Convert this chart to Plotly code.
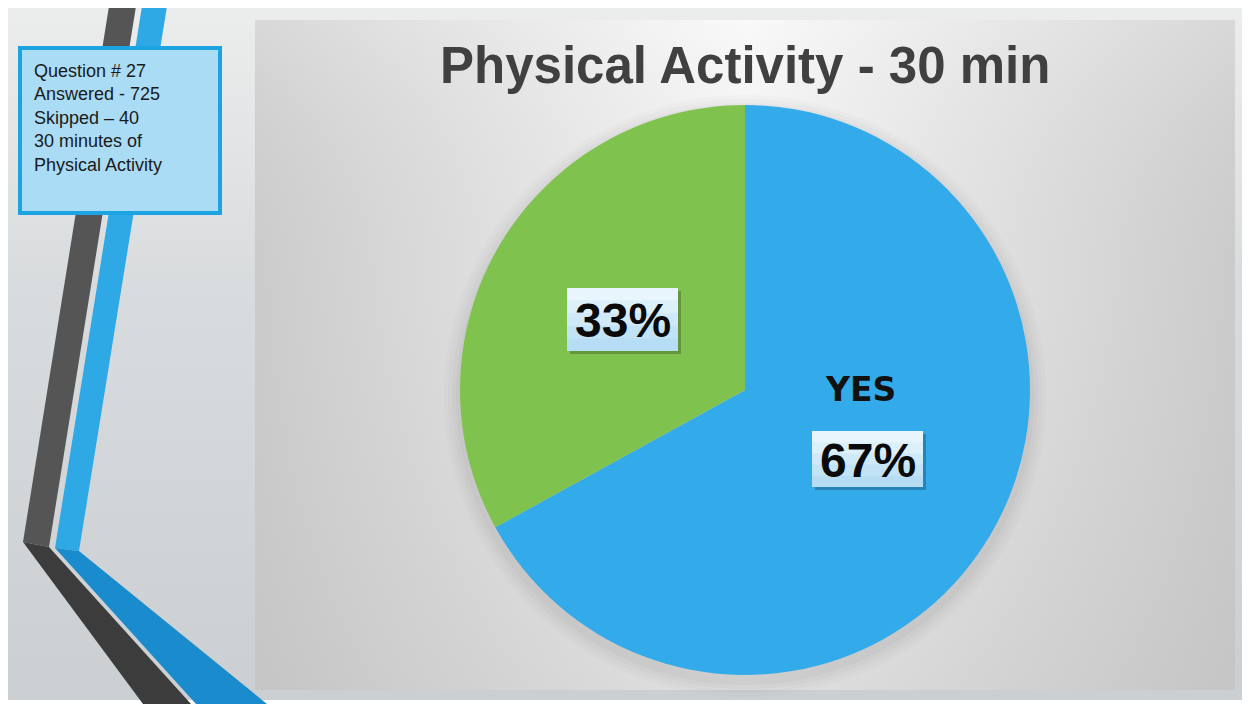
import numpy as np
import plotly.graph_objs as go

# Survey data (question 27)
labels = ['YES', 'NO']
values = [67, 33]
colors = ['#33aaea', '#80c24e']
title = 'Physical Activity - 30 min'
info_lines = ['Question # 27', 'Answered - 725', 'Skipped \u2013 40',
              '30 minutes of', 'Physical Activity']

W, H = 1250, 704
OFF = 8  # page body margin, the figure starts at (8, 8)
FW, FH = W, H

data = []

# slide background
data.append(go.Scatter(x=[7, W + OFF, W + OFF, 7, 7], y=[0, 0, 700, 700, 0], mode='none', fill='toself',
                       fillgradient=dict(type='vertical',
                                         colorscale=[[0, '#cbcfd2'], [0.6, '#d9dcde'], [1, '#eceded']]),
                       hoverinfo='skip'))

# chart panel
px0, px1, py0, py1 = 255, 1235, 20, 690
data.append(go.Scatter(x=[px0, px1, px1, px0, px0], y=[py0, py0, py1, py1, py0], mode='none', fill='toself',
                       fillgradient=dict(type='horizontal',
                                         colorscale=[[0, '#cbcbcb'], [0.5, '#f7f7f7'], [1, '#cbcbcb']]),
                       hoverinfo='skip'))
data.append(go.Scatter(x=[px0, px1, px1, px0, px0], y=[py0, py0, py1, py1, py0], mode='none', fill='toself',
                       fillgradient=dict(type='vertical',
                                         colorscale=[[0, 'rgba(185,185,185,0.35)'], [0.6, 'rgba(200,200,200,0.05)'],
                                                     [1, 'rgba(255,255,255,0.25)']]),
                       hoverinfo='skip'))

# decorative stripes
stripes = [
    ([110, 137, 49, 23], [0, 0, 547, 542], '#555555'),
    ([23, 49, 191, 143], [542, 547, 704, 704], '#3c3c3c'),
    ([143, 168, 79, 55], [0, 0, 551, 548], '#2fa8e6'),
    ([55, 79, 267, 196], [548, 551, 704, 704], '#1a8bcc'),
]
for sx, sy, c in stripes:
    data.append(go.Scatter(x=sx + [sx[0]], y=sy + [sy[0]], mode='none', fill='toself',
                           fillcolor=c, hoverinfo='skip'))

# soft shadow behind the pie
cx, cy, r = 745, 390, 285
t = np.linspace(0, 2 * np.pi, 200)
for k, a in [(16, 0.025), (12, 0.03), (8, 0.035), (4, 0.04)]:
    data.append(go.Scatter(x=cx + (r + k) * np.cos(t), y=cy + 6 + (r + k) * np.sin(t), mode='none',
                           fill='toself', fillcolor='rgba(80,80,80,%s)' % a, hoverinfo='skip'))

data.append(go.Pie(labels=labels, values=values, sort=False, direction='clockwise', rotation=0,
                   marker=dict(colors=colors, line=dict(width=0)), textinfo='none', hoverinfo='label+percent',
                   domain=dict(x=[(cx - r - OFF) / FW, (cx + r - OFF) / FW],
                               y=[1 - (cy + r - OFF) / FH, 1 - (cy - r - OFF) / FH])))

shapes = [
    dict(type='rect', xref='x', yref='y', x0=20, y0=48, x1=220, y1=213,
         fillcolor='#aadcf5', line=dict(color='#1ba3e2', width=4)),
]
annotations = [
    dict(text=title, x=745, y=65, xref='x', yref='y', showarrow=False,
         font=dict(family='Liberation Sans', size=51, color='#404040', weight='bold')),
    dict(text='<br>'.join(info_lines), x=32, y=59, xref='x', yref='y', xanchor='left', yanchor='top',
         align='left', showarrow=False, font=dict(family='Liberation Sans', size=18, color='#1a1a1a')),
    dict(text=labels[0], x=860, y=389, xref='x', yref='y', showarrow=False,
         font=dict(family='DejaVu Sans', size=33, color='#111111', weight='bold')),
]

# percentage label boxes, light top to bluer bottom
band_cols = ['#e9f5fc', '#dcf0fa', '#cfe9f8', '#c2e3f6', '#b6ddf4']
boxes = [(values[1], 567, 288, 678, 351), (values[0], 812, 431, 923, 487)]
for v, x0, y0, x1, y1 in boxes:
    shapes.append(dict(type='rect', xref='x', yref='y', x0=x0 + 3, y0=y0 + 3, x1=x1 + 3, y1=y1 + 3,
                       fillcolor='rgba(0,0,0,0.22)', line=dict(width=0)))
    n = len(band_cols)
    for i, bc in enumerate(band_cols):
        shapes.append(dict(type='rect', xref='x', yref='y', x0=x0, x1=x1,
                           y0=y0 + (y1 - y0) * i / n, y1=y1,
                           fillcolor=bc, line=dict(width=0)))
    annotations.append(dict(text='%d%%' % v, x=(x0 + x1) / 2, y=(y0 + y1) / 2 + 1, xref='x', yref='y',
                            showarrow=False,
                            font=dict(family='Liberation Sans', size=48, color='#0a0a0a', weight='bold')))

layout = go.Layout(width=FW, height=FH, margin=dict(l=0, r=0, t=0, b=0), showlegend=False,
                   paper_bgcolor='white', plot_bgcolor='rgba(0,0,0,0)',
                   xaxis=dict(range=[OFF, W + OFF], visible=False, fixedrange=True),
                   yaxis=dict(range=[H + OFF, OFF], visible=False, fixedrange=True),
                   shapes=shapes, annotations=annotations)

fig = go.Figure(data=data, layout=layout)
fig.write_html('out.html')
